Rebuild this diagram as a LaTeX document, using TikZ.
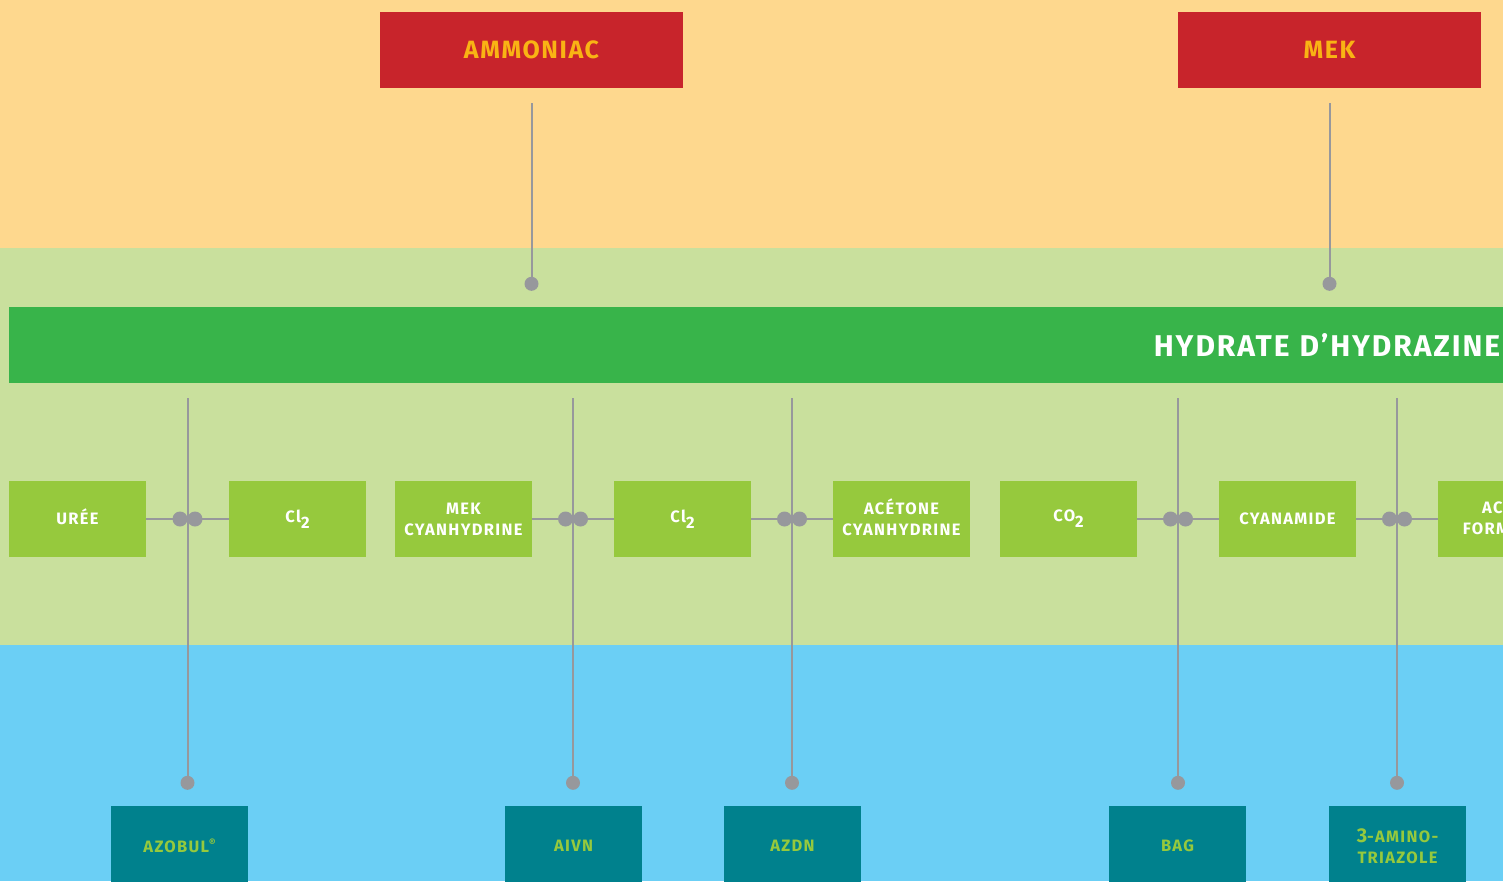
\documentclass[tikz,border=0pt]{standalone}
\usepackage{fontspec}
\setmainfont{Fira Sans}
\newfontfamily\boxfont[LetterSpace=8]{Fira Sans}
\newfontfamily\titlefont[LetterSpace=6.5]{Fira Sans}
\usetikzlibrary{calc}
\definecolor{bandorange}{HTML}{FED88E}
\definecolor{bandgreen}{HTML}{C9E09D}
\definecolor{bandblue}{HTML}{6BCFF5}
\definecolor{bargreen}{HTML}{38B44A}
\definecolor{boxgreen}{HTML}{96C93D}
\definecolor{boxteal}{HTML}{00818D}
\definecolor{boxred}{HTML}{C8242B}
\definecolor{txtyellow}{HTML}{F9B314}
\definecolor{linegray}{HTML}{97989C}
\newcommand{\lowtwo}{\raisebox{-6pt}{2}}
\newcommand{\capht}[1]{\raisebox{0pt}[\fontcharht\font`\E]{#1}}
\tikzset{
  source/.style={fill=boxred, text=txtyellow, minimum width=303pt, minimum height=76pt,
    inner sep=0pt, font=\titlefont\fontsize{25}{28}\selectfont\bfseries},
  reagent/.style={fill=boxgreen, text=white, minimum width=137pt, minimum height=76pt,
    inner sep=0pt, align=center, font=\boxfont\fontsize{16.5}{21}\selectfont\bfseries},
  product/.style={reagent, fill=boxteal, text=boxgreen, minimum height=80pt},
  link/.style={linegray, line width=2pt}
}

\begin{document}
\begin{tikzpicture}[x=1pt,y=-1pt]
  \useasboundingbox (0,0) rectangle (1503,881);
  \clip (0,0) rectangle (1503,881);
  \fill[bandorange] (0,0) rectangle (1503,248);
  \fill[bandgreen] (0,248) rectangle (1503,645);
  \fill[bandblue] (0,645) rectangle (1503,881);

  \node[source] (ammoniac) at (531.5,50) {AMMONIAC};
  \node[source] (mek) at (1329.5,50) {MEK};

  \node[fill=bargreen, text=white, anchor=west, minimum width=1494pt, minimum height=76pt,
    inner xsep=3pt, inner ysep=0pt, text width=1488pt, align=right,
    font=\titlefont\fontsize{30}{32}\selectfont\bfseries] (bar) at (9,345) {HYDRATE D’HYDRAZINE};

  \node[reagent] (uree) at (77.5,519) {\capht{URÉE}};
  \node[reagent] (chlA) at (297.5,519) {Cl\lowtwo};
  \node[reagent] (mekcy) at (463.5,519) {MEK\\CYANHYDRINE};
  \node[reagent] (chlB) at (682.5,519) {Cl\lowtwo};
  \node[reagent] (acecy) at (901.5,519) {\capht{ACÉTONE}\\CYANHYDRINE};
  \node[reagent] (co2) at (1068.5,519) {CO\lowtwo};
  \node[reagent] (cyan) at (1287.5,519) {CYANAMIDE};
  \node[reagent] (acform) at (1506.5,519) {ACIDE\\FORMIQUE};

  \node[product] (azobul) at (179.5,846) {AZOBUL\raisebox{6pt}{\fontsize{10}{10}\selectfont ®}};
  \node[product] (aivn) at (573.5,846) {AIVN};
  \node[product] (azdn) at (792.5,846) {AZDN};
  \node[product] (bag) at (1177.5,846) {BAG};
  \node[product] (amino) at (1397.5,846) {{\fontsize{20}{21}\selectfont 3}-AMINO-\\TRIAZOLE};

  \foreach \s in {ammoniac, mek} {
    \draw[link] ([yshift=-15pt]\s.south) -- ([yshift=23pt]\s.south |- bar.north);
    \fill[linegray] ([yshift=23pt]\s.south |- bar.north) circle (7pt);
  }

  \foreach \a/\b/\p [count=\i] in {uree/chlA/azobul, mekcy/chlB/aivn, chlB/acecy/azdn,
      co2/cyan/bag, cyan/acform/amino} {
    \coordinate (j\i) at ($(\a.east)!0.5!(\b.west)$);
    \draw[link] (\a.east) -- (\b.west);
    \draw[link] ([yshift=-15pt]bar.south -| j\i) -- ([yshift=23pt]\p.north -| j\i);
    \fill[linegray] ([yshift=23pt]\p.north -| j\i) circle (7pt);
    \fill[linegray] ($(j\i)+(-7.5,0)$) circle (7.5pt) ($(j\i)+(7.5,0)$) circle (7.5pt);
  }
\end{tikzpicture}
\end{document}
